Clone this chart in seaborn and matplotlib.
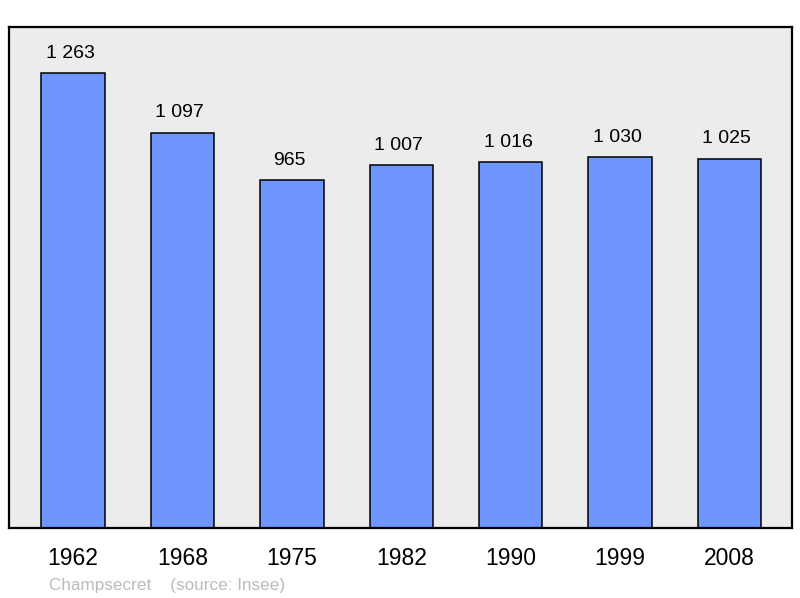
import matplotlib
matplotlib.use("Agg")
import matplotlib.pyplot as plt
import seaborn as sns
import pandas as pd

years = ["1962", "1968", "1975", "1982", "1990", "1999", "2008"]
population = [1263, 1097, 965, 1007, 1016, 1030, 1025]
commune = "Champsecret"
source = "(source: Insee)"

df = pd.DataFrame({"year": years, "pop": population})

sns.set_style("white")
plt.rcParams["font.family"] = ["Liberation Sans", "DejaVu Sans"]
plt.rcParams["text.color"] = "black"
plt.rcParams["xtick.color"] = "black"

fig = plt.figure(figsize=(8, 5.98), dpi=100)
ax = fig.add_axes([9 / 800, 70 / 598, 783 / 800, 501 / 598])
ax.set_facecolor("#ececec")

sns.barplot(
    data=df,
    x="year",
    y="pop",
    color="#6f96ff",
    saturation=1,
    edgecolor="black",
    linewidth=1.1,
    width=0.58,
    ax=ax,
)

# value labels, french style thousands separator
for i, v in enumerate(population):
    ax.annotate(
        f"{v:,}".replace(",", " "),
        (i, v),
        xytext=(-2, 8),
        textcoords="offset points",
        ha="center",
        va="bottom",
        fontsize=14,
        color="black",
    )

ax.set_xlim(-0.585, 6.57)
ax.set_ylim(0, 1390)
ax.set_yticks([])
ax.set_xlabel("")
ax.set_ylabel("")
ax.tick_params(axis="x", length=0, pad=14, labelsize=16.5, labelcolor="black")
for s in ax.spines.values():
    s.set_visible(True)
    s.set_color("black")
    s.set_linewidth(1.6)

fig.text(49 / 800, 1 - 590 / 598, f"{commune}    {source}", color="#bbbbbb",
         fontsize=12.3, ha="left", va="baseline")

fig.savefig("out.png", dpi=100)
